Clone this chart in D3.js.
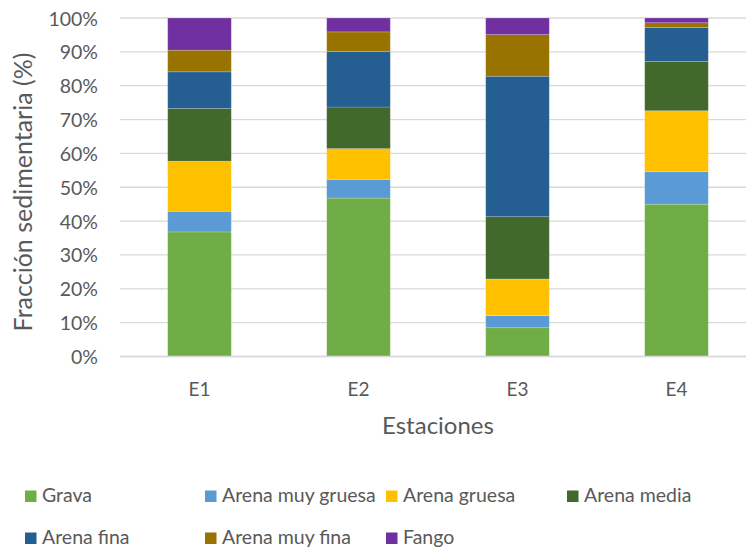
<!DOCTYPE html>
<html>
<head>
<meta charset="utf-8">
<script src="https://cdn.jsdelivr.net/npm/d3@7"></script>
<style>
  html, body { margin: 0; padding: 0; background: #ffffff; }
  svg { display: block; font-family: Lato, "Open Sans", sans-serif; }
</style>
</head>
<body>
<svg id="chart" width="746" height="550"></svg>
<script>
// Stations sampled and percentage of each sediment fraction
const stations = ["E1", "E2", "E3", "E4"];
const grava          = [36.8, 46.8,  8.5, 45.0];
const arenaMuyGruesa = [ 6.1,  5.5,  3.6,  9.6];
const arenaGruesa    = [14.8,  9.1, 10.8, 18.0];
const arenaMedia     = [15.6, 12.3, 18.4, 14.6];
const arenaFina      = [10.8, 16.4, 41.5, 10.0];
const arenaMuyFina   = [ 6.4,  5.8, 12.3,  1.4];
const fango          = [ 9.5,  4.1,  4.9,  1.4];

const seriesNames = ["Grava", "Arena muy gruesa", "Arena gruesa", "Arena media",
                     "Arena fina", "Arena muy fina", "Fango"];
const seriesValues = [grava, arenaMuyGruesa, arenaGruesa, arenaMedia,
                      arenaFina, arenaMuyFina, fango];
const seriesColors = ["#70AD47", "#5B9BD5", "#FFC000", "#43682B",
                      "#255E91", "#997300", "#7030A0"];
const yTicks = [0, 10, 20, 30, 40, 50, 60, 70, 80, 90, 100];

const yTitle = "Fracción sedimentaria (%)";
const xTitle = "Estaciones";

// Table for the stack layout
const rows = stations.map((s, i) => {
  const r = { station: s };
  seriesNames.forEach((n, k) => { r[n] = seriesValues[k][i]; });
  return r;
});

const svg = d3.select("#chart");
const textColor = "#595959";
const gridColor = "#D9D9D9";

const plot = { left: 120, right: 756, top: 18, bottom: 356.5 };

const x = d3.scaleBand()
  .domain(stations)
  .range([plot.left, plot.right])
  .paddingInner(0.6)
  .paddingOuter(0.3);

const y = d3.scaleLinear()
  .domain([0, 100])
  .range([plot.bottom, plot.top]);

const color = d3.scaleOrdinal().domain(seriesNames).range(seriesColors);

// Horizontal gridlines
svg.append("g")
  .selectAll("line")
  .data(yTicks)
  .join("line")
  .attr("x1", plot.left)
  .attr("x2", plot.right)
  .attr("y1", d => y(d))
  .attr("y2", d => y(d))
  .attr("stroke", gridColor)
  .attr("stroke-width", 1.3);

// Stacked bars
const stacked = d3.stack().keys(seriesNames)(rows);

svg.append("g")
  .selectAll("g")
  .data(stacked)
  .join("g")
  .attr("fill", d => color(d.key))
  .selectAll("rect")
  .data(d => d)
  .join("rect")
  .attr("x", d => x(d.data.station))
  .attr("width", x.bandwidth())
  .attr("y", d => y(d[1]))
  .attr("height", d => y(d[0]) - y(d[1]))
  .attr("stroke", "#ffffff")
  .attr("stroke-opacity", 0.25)
  .attr("stroke-width", 0.75);

// Y axis tick labels
const yAxis = d3.axisLeft(y)
  .tickValues(yTicks)
  .tickFormat(d => d + "%")
  .tickSize(0)
  .tickPadding(0);

svg.append("g")
  .attr("transform", `translate(98,0)`)
  .call(yAxis)
  .call(g => g.select(".domain").remove())
  .selectAll("text")
  .attr("fill", textColor)
  .attr("font-family", "Lato, 'Open Sans', sans-serif")
  .attr("font-size", 19.5)
  .attr("dy", "0.36em");

// X axis line and category labels
svg.append("line")
  .attr("x1", plot.left).attr("x2", plot.right)
  .attr("y1", plot.bottom).attr("y2", plot.bottom)
  .attr("stroke", gridColor).attr("stroke-width", 1.3);

const xAxis = d3.axisBottom(x).tickSize(0).tickPadding(0);
svg.append("g")
  .attr("transform", `translate(0,${plot.bottom})`)
  .call(xAxis)
  .call(g => g.select(".domain").remove())
  .selectAll("text")
  .attr("fill", textColor)
  .attr("font-family", "Lato, 'Open Sans', sans-serif")
  .attr("font-size", 19)
  .attr("dy", null)
  .attr("y", 39);

// Axis titles
svg.append("text")
  .attr("transform", `translate(32,192) rotate(-90)`)
  .attr("text-anchor", "middle")
  .attr("fill", textColor)
  .attr("font-size", 25)
  .text(yTitle);

svg.append("text")
  .attr("x", (plot.left + plot.right) / 2)
  .attr("y", 434)
  .attr("text-anchor", "middle")
  .attr("fill", textColor)
  .attr("font-size", 24)
  .text(xTitle);

// Legend: four columns, two rows
const legendCols = [25, 205, 386, 567];
const legendRows = [502, 544];
const legend = svg.append("g")
  .selectAll("g")
  .data(seriesNames)
  .join("g")
  .attr("transform", (d, i) => `translate(${legendCols[i % 4]},${legendRows[Math.floor(i / 4)]})`);

legend.append("rect")
  .attr("x", 0)
  .attr("y", -11.5)
  .attr("width", 11.5)
  .attr("height", 11.5)
  .attr("fill", d => color(d));

legend.append("text")
  .attr("x", 17)
  .attr("y", 0)
  .attr("fill", textColor)
  .attr("font-size", 19.5)
  .text(d => d);
</script>
</body>
</html>
